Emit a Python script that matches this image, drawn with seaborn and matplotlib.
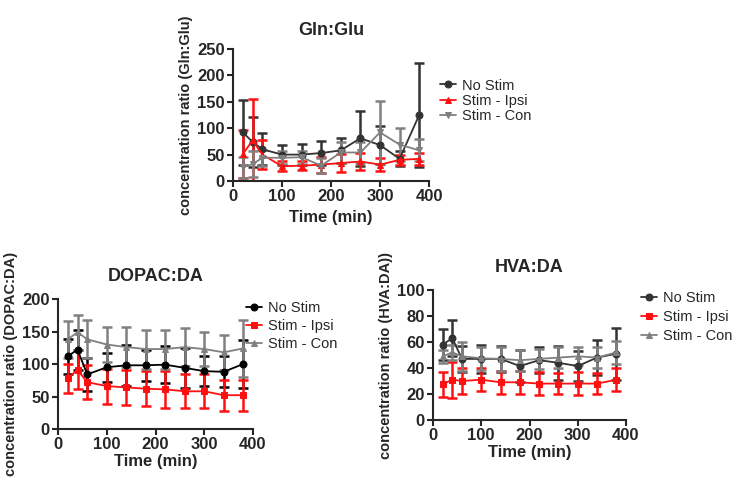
import matplotlib
matplotlib.use("Agg")
import matplotlib.pyplot as plt
import seaborn as sns
import numpy as np

# sampling times (min)
time = [20, 40, 60, 100, 140, 180, 220, 260, 300, 340, 380]
labels = ["No Stim", "Stim - Ipsi", "Stim - Con"]

# Gln:Glu
glu_nostim = [92, 74, 60, 50, 50, 53, 58, 81, 68, 42, 125]
glu_nostim_sd = [62, 48, 30, 19, 20, 23, 24, 52, 36, 14, 98]
glu_ipsi = [51, 77, 50, 28, 29, 31, 34, 37, 31, 40, 42]
glu_ipsi_sd = [45, 78, 28, 10, 9, 15, 17, 16, 13, 10, 11]
glu_con = [26, 32, 44, 44, 45, 29, 54, 54, 92, 69, 58]
glu_con_sd = [20, 25, 15, 12, 12, 14, 20, 20, 59, 31, 21]

# DOPAC:DA
dop_nostim = [112, 122, 84, 95, 98, 98, 99, 94, 89, 88, 100]
dop_nostim_sd = [27, 31, 25, 22, 32, 24, 28, 31, 23, 24, 37]
dop_ipsi = [78, 91, 72, 66, 64, 62, 61, 58, 58, 52, 52]
dop_ipsi_sd = [22, 30, 26, 27, 27, 27, 28, 26, 26, 24, 24]
dop_con = [138, 149, 138, 130, 126, 123, 123, 126, 123, 118, 124]
dop_con_sd = [28, 27, 29, 27, 31, 30, 30, 29, 26, 27, 44]

# HVA:DA
hva_nostim = [58, 63, 47, 47, 47, 41.5, 46, 44, 41.5, 48, 51]
hva_nostim_sd = [12, 14, 10, 11, 10, 12.5, 10, 13, 11.5, 13.5, 20]
hva_ipsi = [27.5, 31, 30, 31, 29, 29, 28, 28, 28, 28, 31]
hva_ipsi_sd = [9.5, 14, 10, 9, 9, 9, 9, 8, 9, 8, 9]
hva_con = [49, 52, 49, 47.5, 47, 46, 47, 48, 49, 48, 52]
hva_con_sd = [5, 6, 11, 9, 9, 8, 8, 8, 7, 8, 9]

sns.set_style("ticks")
plt.rcParams['font.family'] = ['Liberation Sans', 'DejaVu Sans']
plt.rcParams['axes.linewidth'] = 1.5

fig = plt.figure(figsize=(7.4, 4.86), dpi=100)


def panel(rect, title, ylabel, ymax, ystep, series, legend_xy,
          title_pad, xpad, spacing):
    ax = fig.add_axes(rect)
    for vals, sd, color, marker, label in series:
        ax.errorbar(time, vals, yerr=sd, fmt='none', ecolor=color,
                    elinewidth=1.8, capsize=3.5, capthick=1.8, zorder=2)
        sns.lineplot(x=time, y=vals, ax=ax, color=color, marker=marker,
                     markersize=5, markeredgecolor=color, linewidth=1.3,
                     label=label, zorder=3)
    ax.set_xlim(0, 400)
    ax.set_ylim(0, ymax)
    ax.set_xticks([0, 100, 200, 300, 400])
    ax.set_yticks(np.arange(0, ymax + 1, ystep))
    ax.tick_params(width=1.5, length=4, labelsize=12, pad=2)
    for t in ax.get_xticklabels() + ax.get_yticklabels():
        t.set_fontweight('bold')
    sns.despine(ax=ax)
    ax.set_title(title, fontsize=13, fontweight='bold', pad=title_pad)
    ax.set_xlabel("Time (min)", fontsize=12, fontweight='bold', labelpad=xpad)
    ax.set_ylabel(ylabel, fontsize=10.5, fontweight='bold', labelpad=3)
    ax.legend(loc='center left', bbox_to_anchor=legend_xy,
              bbox_transform=fig.transFigure, frameon=False, fontsize=10.5,
              handlelength=1.1, handletextpad=0.4, labelspacing=spacing,
              borderpad=0, borderaxespad=0)
    return ax


dark = '#333333'
red = '#ff1010'
gray = '#808080'

panel([233 / 740, 305 / 486, 196 / 740, 132 / 486], "Gln:Glu",
      "concentration ratio (Gln:Glu)", 250, 50,
      [(glu_nostim, glu_nostim_sd, dark, 'o', labels[0]),
       (glu_ipsi, glu_ipsi_sd, red, '^', labels[1]),
       (glu_con, glu_con_sd, gray, 'v', labels[2])],
      (440 / 740, (486 - 101) / 486), 10, 4, 0.1)

panel([58 / 740, 57 / 486, 195 / 740, 130 / 486], "DOPAC:DA",
      "concentration ratio (DOPAC:DA)", 200, 50,
      [(dop_nostim, dop_nostim_sd, 'black', 'o', labels[0]),
       (dop_ipsi, dop_ipsi_sd, red, 's', labels[1]),
       (dop_con, dop_con_sd, gray, '^', labels[2])],
      (246 / 740, (486 - 326) / 486), 13, 1, 0.25)

panel([433 / 740, 66 / 486, 193 / 740, 130 / 486], "HVA:DA",
      "concentration ratio (HVA:DA))", 100, 20,
      [(hva_nostim, hva_nostim_sd, dark, 'o', labels[0]),
       (hva_ipsi, hva_ipsi_sd, red, 's', labels[1]),
       (hva_con, hva_con_sd, gray, '^', labels[2])],
      (641 / 740, (486 - 317) / 486), 13, 1, 0.33)

fig.savefig("out.png", dpi=100)
